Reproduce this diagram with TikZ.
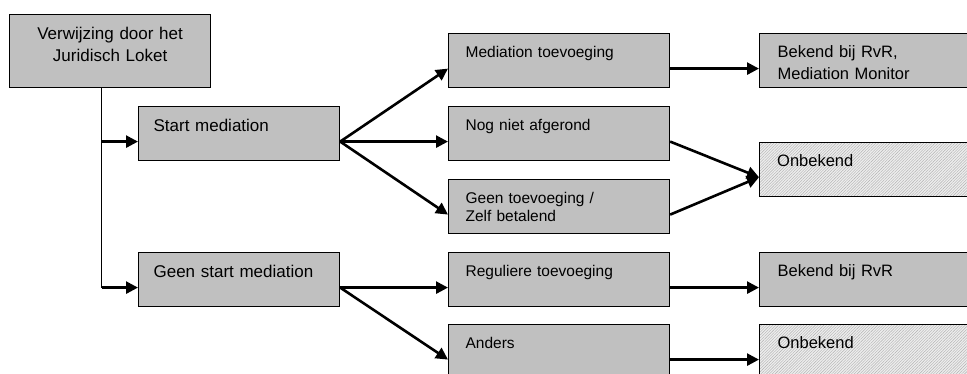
\documentclass[tikz,border=0pt]{standalone}
\usepackage{fontspec}
\setmainfont{Liberation Sans}
\usetikzlibrary{arrows.meta,patterns.meta}
\definecolor{boxgray}{HTML}{C0C0C0}
\definecolor{hatchbg}{HTML}{EDEDED}
\definecolor{hatchgray}{HTML}{B0B0B0}

\tikzset{
  box/.style={draw, line width=1.2pt, fill=boxgray, anchor=north west, align=left,
    inner xsep=15pt, inner ysep=0pt, text height=24pt, text depth=30pt},
  leftbox/.style={box, text width=171pt, text height=25pt, text depth=29pt,
    font=\fontsize{17}{22}\selectfont},
  midbox/.style={box, text width=187pt, inner xsep=17pt, font=\fontsize{15.5}{18}\selectfont},
  rightbox/.style={box, text width=185pt, inner xsep=18pt, font=\fontsize{16.5}{22}\selectfont},
  unknown/.style={preaction={fill=hatchbg},
    pattern={Lines[angle=45,distance=2pt,line width=0.4pt]}, pattern color=hatchgray},
  arr/.style={-{Triangle[length=12pt,width=12pt]}, line width=2.6pt},
  trunkline/.style={line width=1.2pt},
}

\begin{document}
\begin{tikzpicture}[x=1pt, y=-1pt]
\useasboundingbox (0,0) rectangle (967,374);
\clip (0,0) rectangle (967,374);

\node (jl) [leftbox, align=center, text height=25pt, text depth=48pt] at (9,14)
  {Verwijzing door het\\Juridisch Loket};
\node (sm) [leftbox] at (138,106) {Start mediation};
\node (gsm) [leftbox] at (138,252) {Geen start mediation};

\node (mt) [midbox] at (448,33) {Mediation toevoeging};
\node (nna) [midbox] at (448,106) {Nog niet afgerond};
\node (gt) [midbox] at (448,179) {Geen toevoeging /\\Zelf betalend};
\node (rt) [midbox] at (448,252) {Reguliere toevoeging};
\node (an) [midbox] at (448,324) {Anders};

\node (bm) [rightbox] at (759,33) {Bekend bij RvR,\\Mediation Monitor};
\node (on1) [rightbox, unknown] at (759,142) {Onbekend};
\node (br) [rightbox] at (759,252) {Bekend bij RvR};
\node (on2) [rightbox, unknown] at (759,324) {Onbekend};

\foreach \n in {sm,gsm,mt,nna,gt,rt,an,bm,on1,br,on2} {
  \coordinate (\n-in) at ([yshift=-8pt]\n.west);
  \coordinate (\n-out) at ([yshift=-8pt]\n.east);
}
\coordinate (trunk) at ([xshift=-8.5pt]jl.south);

\draw[trunkline] (trunk) -- (trunk |- gsm-in);
\draw[arr] (trunk |- sm-in) -- (sm-in);
\draw[arr] (trunk |- gsm-in) -- (gsm-in);

\draw[arr] (sm-out) -- (mt-in);
\draw[arr] (sm-out) -- (nna-in);
\draw[arr] (sm-out) -- (gt-in);
\draw[arr] (gsm-out) -- (rt-in);
\draw[arr] (gsm-out) -- (an-in);

\draw[arr] (mt-out) -- (bm-in);
\draw[arr] (nna-out) -- (on1-in);
\draw[arr] (gt-out) -- (on1-in);
\draw[arr] (rt-out) -- (br-in);
\draw[arr] (an-out) -- (on2-in);
\end{tikzpicture}
\end{document}
